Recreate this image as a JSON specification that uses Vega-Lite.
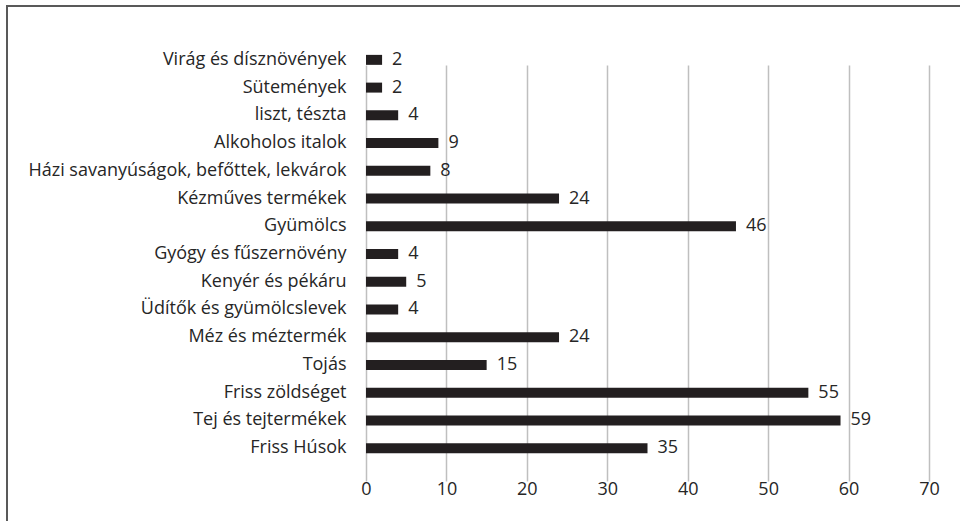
{
  "$schema": "https://vega.github.io/schema/vega-lite/v6.json",
  "width": 953,
  "height": 515,
  "autosize": {"type": "none"},
  "padding": {"left": 7, "top": 6, "right": 0, "bottom": 0},
  "background": "white",
  "config": {
    "view": {"stroke": "#595959", "strokeWidth": 2, "strokeDash": [953, 1468, 515]},
    "font": "Open Sans"
  },
  "data": {
    "values": [
      {"category": "Virág és dísznövények", "value": 2},
      {"category": "Sütemények", "value": 2},
      {"category": "liszt, tészta", "value": 4},
      {"category": "Alkoholos italok", "value": 9},
      {"category": "Házi savanyúságok, befőttek, lekvárok", "value": 8},
      {"category": "Kézműves termékek", "value": 24},
      {"category": "Gyümölcs", "value": 46},
      {"category": "Gyógy és fűszernövény", "value": 4},
      {"category": "Kenyér és pékáru", "value": 5},
      {"category": "Üdítők és gyümölcslevek", "value": 4},
      {"category": "Méz és méztermék", "value": 24},
      {"category": "Tojás", "value": 15},
      {"category": "Friss zöldséget", "value": 55},
      {"category": "Tej és tejtermékek", "value": 59},
      {"category": "Friss Húsok", "value": 35}
    ]
  },
  "encoding": {
    "y": {
      "field": "category",
      "type": "nominal",
      "sort": null,
      "scale": {"range": [40, 456], "paddingInner": 0.64, "paddingOuter": 0.32},
      "axis": {
        "title": null,
        "domain": false,
        "ticks": false,
        "tickSize": 0,
        "labelPadding": 0,
        "offset": -339,
        "labelFontSize": 18,
        "labelColor": "#262626",
        "labelLimit": 0,
        "grid": false
      }
    }
  },
  "layer": [
    {
      "mark": {"type": "bar", "color": "#231F20"},
      "encoding": {
        "x": {
          "field": "value",
          "type": "quantitative",
          "scale": {"domain": [0, 70], "range": [359, 922], "nice": false},
          "axis": {
            "title": null,
            "values": [0, 10, 20, 30, 40, 50, 60, 70],
            "grid": true,
            "gridColor": "#BFBFBF",
            "gridWidth": 1.5,
            "domain": false,
            "ticks": false,
            "tickSize": 0,
            "labelPadding": 18,
            "offset": -59,
            "labelFontSize": 18,
            "labelColor": "#262626",
            "labelFlush": false
          }
        }
      }
    },
    {
      "mark": {"type": "text", "align": "left", "baseline": "middle", "dx": 10, "fontSize": 18, "color": "#262626"},
      "encoding": {
        "x": {"field": "value", "type": "quantitative"},
        "text": {"field": "value", "type": "quantitative"}
      }
    }
  ]
}
